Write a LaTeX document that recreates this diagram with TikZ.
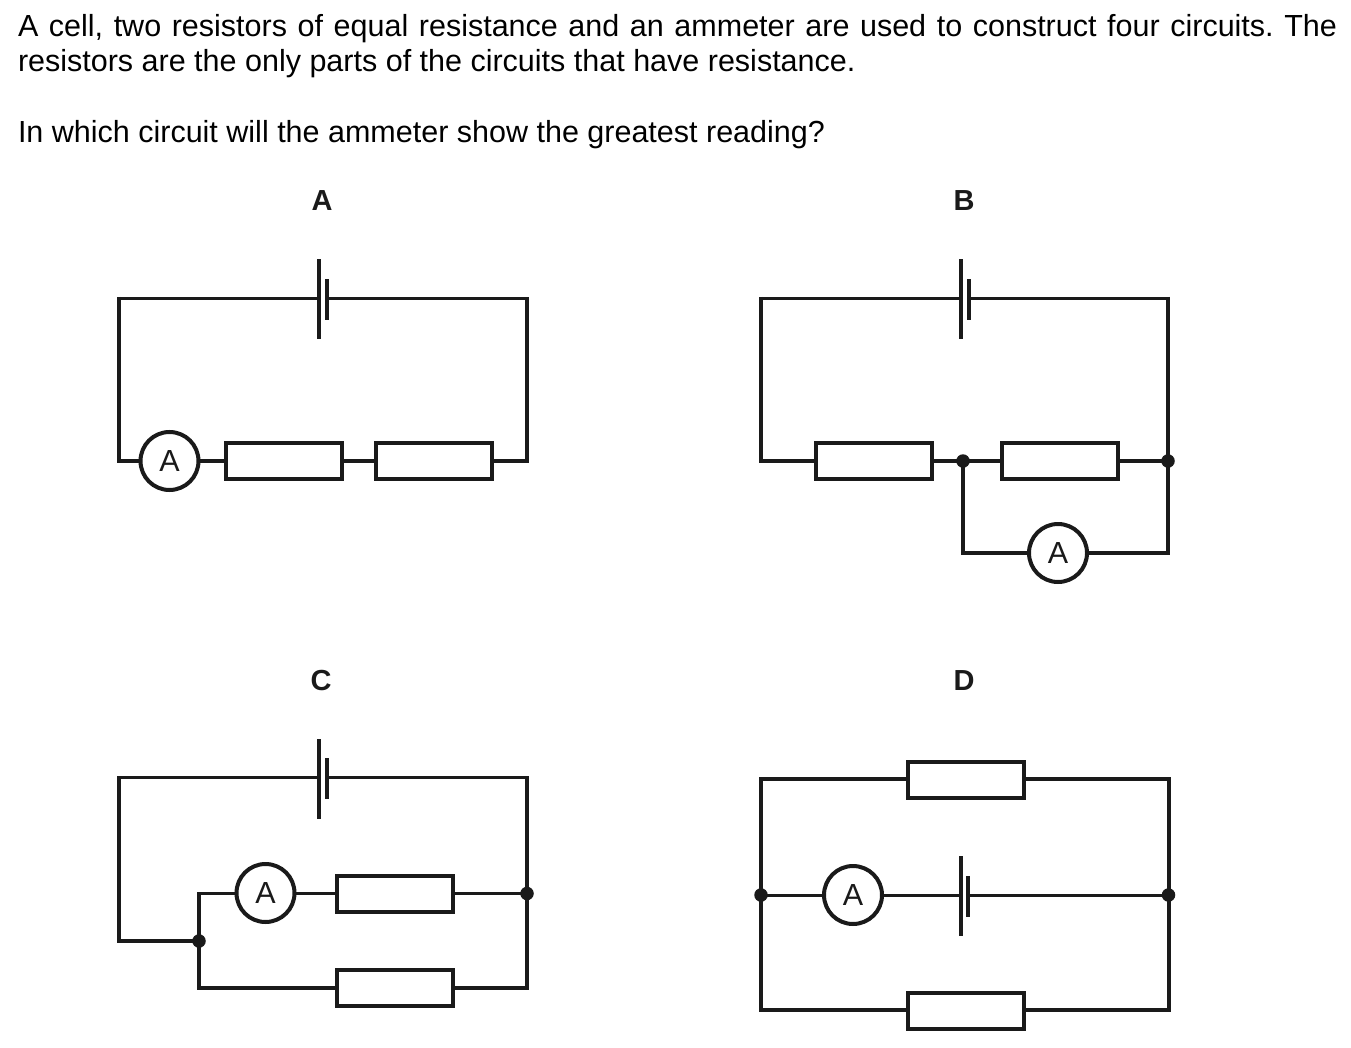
\documentclass[tikz,border=0pt]{standalone}
\usepackage{fontspec}
\setmainfont{Liberation Sans}
\definecolor{ink}{HTML}{1A1A1A}
\tikzset{
  wire/.style={draw=ink,line width=4pt,line join=miter},
  thinwire/.style={draw=ink,line width=3pt},
  resbox/.style={draw=ink,line width=4pt,rectangle,minimum width=116pt,minimum height=36pt,inner sep=0pt,outer sep=0pt,fill=white},
  amm/.style={draw=ink,line width=4pt,circle,minimum size=58pt,inner sep=0pt,outer sep=0pt,fill=white,text=ink,font=\fontsize{30.5}{30.5}\selectfont},
  longplate/.style={fill=ink,rectangle,minimum width=4pt,minimum height=80pt,inner sep=0pt,outer sep=0pt},
  shortplate/.style={fill=ink,rectangle,minimum width=4pt,minimum height=41pt,inner sep=0pt,outer sep=0pt},
  junction/.style={fill=ink,circle,minimum size=13.5pt,inner sep=0pt,outer sep=0pt},
  body/.style={anchor=base west,inner sep=0pt,outer sep=0pt,text=black,font=\fontsize{30.5}{30.5}\selectfont},
  optlabel/.style={anchor=base,inner sep=0pt,outer sep=0pt,text=ink,font=\fontsize{29}{29}\selectfont\bfseries}
}
\begin{document}
\frenchspacing
\begin{tikzpicture}[x=1pt,y=-1pt]
\useasboundingbox (0,0) rectangle (1351,1048);
% text
\node[body] (t1) at (18,36.7) {\makebox[1319pt][s]{A cell, two resistors of equal resistance and an ammeter are used to construct four circuits. The}};
\node[body] (t2) at (18,71.7) {resistors are the only parts of the circuits that have resistance.};
\node[body] (t3) at (18,142.7) {In which circuit will the ammeter show the greatest reading?};
\node[optlabel] (la) at (322,211) {A};
\node[optlabel] (lb) at (964,211) {B};
\node[optlabel] (lc) at (321,690) {C};
\node[optlabel] (ld) at (964,690) {D};

% Circuit A
\node[longplate] (aL) at (319,299) {};
\node[shortplate] (aS) at (327,299.5) {};
\node[amm] (aA) at (169.5,461) {A};
\node[resbox] (aR1) at (284,461) {};
\node[resbox] (aR2) at (434,461) {};
\coordinate (a1) at (119,298.5);
\coordinate (a2) at (119,461);
\coordinate (a3) at (527,298.5);
\coordinate (a4) at (527,461);
\draw[thinwire] (aL.center |- a1) -- ([xshift=-2pt]a1);
\draw[wire] ([yshift=1.5pt]a1) -- (a2) -- (aA.west);
\draw[wire] (aA.east) -- (aR1.west);
\draw[wire] (aR1.east) -- (aR2.west);
\draw[wire] (aR2.east) -- (a4) -- ([yshift=1.5pt]a3);
\draw[thinwire] ([xshift=2pt]a3) -- (aS.center |- a3);

% Circuit B
\node[longplate] (bL) at (961,299) {};
\node[shortplate] (bS) at (969,299.5) {};
\node[resbox] (bR1) at (873.5,461) {};
\node[resbox] (bR2) at (1060,461) {};
\node[junction] (bJ1) at (963,461) {};
\node[junction] (bJ2) at (1168,461) {};
\node[amm] (bA) at (1058,553) {A};
\coordinate (b1) at (761,298.5);
\coordinate (b2) at (761,461);
\coordinate (b3) at (1168,298.5);
\coordinate (b4) at (963,553);
\coordinate (b5) at (1168,553);
\draw[thinwire] (bL.center |- b1) -- ([xshift=-2pt]b1);
\draw[wire] ([yshift=1.5pt]b1) -- (b2) -- (bR1.west);
\draw[wire] (bR1.east) -- (bJ1.center);
\draw[wire] (bJ1.center) -- (bR2.west);
\draw[wire] (bR2.east) -- (bJ2.center);
\draw[thinwire] (bS.center |- b3) -- ([xshift=2pt]b3);
\draw[wire] ([yshift=1.5pt]b3) -- (bJ2.center);
\draw[wire] (bJ1.center) -- (b4) -- (bA.west);
\draw[wire] (bA.east) -- (b5) -- (bJ2.center);

% Circuit C
\node[longplate] (cL) at (319,779) {};
\node[shortplate] (cS) at (327,778.5) {};
\node[amm] (cA) at (265.5,893) {A};
\node[resbox] (cR1) at (394.5,893.5) {};
\node[resbox] (cR2) at (394.5,987.5) {};
\node[junction] (cJ1) at (199,941) {};
\node[junction] (cJ2) at (527,893.5) {};
\coordinate (c1) at (119,777.5);
\coordinate (c2) at (119,941);
\coordinate (c3) at (527,777.5);
\coordinate (c4) at (199,893);
\coordinate (c5) at (199,987.5);
\coordinate (c6) at (527,987.5);
\draw[thinwire] (cL.center |- c1) -- ([xshift=-2pt]c1);
\draw[wire] ([yshift=1.5pt]c1) -- (c2) -- (cJ1.center);
\draw[thinwire] (cS.center |- c3) -- ([xshift=2pt]c3);
\draw[wire] ([yshift=1.5pt]c3) -- (cJ2.center);
\draw[wire] (cJ1.center) -- ([yshift=1.5pt]c4);
\draw[thinwire] ([xshift=-2pt]c4) -- (cA.west);
\draw[thinwire] (cA.east) -- (cR1.west |- cA.east);
\draw[thinwire] (cR1.east) -- (cJ2.center);
\draw[wire] (cJ1.center) -- (c5) -- (cR2.west);
\draw[wire] (cR2.east) -- (c6) -- (cJ2.center);

% Circuit D
\node[resbox] (dR1) at (965.5,780) {};
\node[resbox] (dR2) at (965.5,1010.5) {};
\node[longplate] (dL) at (961,896) {};
\node[shortplate] (dS) at (968,896.5) {};
\node[amm] (dA) at (853,895) {A};
\node[junction] (dJ1) at (761,895) {};
\node[junction] (dJ2) at (1168.5,895) {};
\coordinate (d1) at (761,779);
\coordinate (d2) at (1168.5,779);
\coordinate (d3) at (761,1010);
\coordinate (d4) at (1168.5,1010);
\draw[wire] (dR1.west |- d1) -- (d1) -- (dJ1.center);
\draw[wire] (dR1.east |- d2) -- (d2) -- (dJ2.center);
\draw[wire] (dR2.west |- d3) -- (d3) -- (dJ1.center);
\draw[wire] (dR2.east |- d4) -- (d4) -- (dJ2.center);
\draw[thinwire] (dJ1.center) -- (dA.west);
\draw[thinwire] (dA.east) -- (dL.center |- dA.east);
\draw[thinwire] (dS.center |- dJ2.center) -- (dJ2.center);
\end{tikzpicture}
\end{document}
